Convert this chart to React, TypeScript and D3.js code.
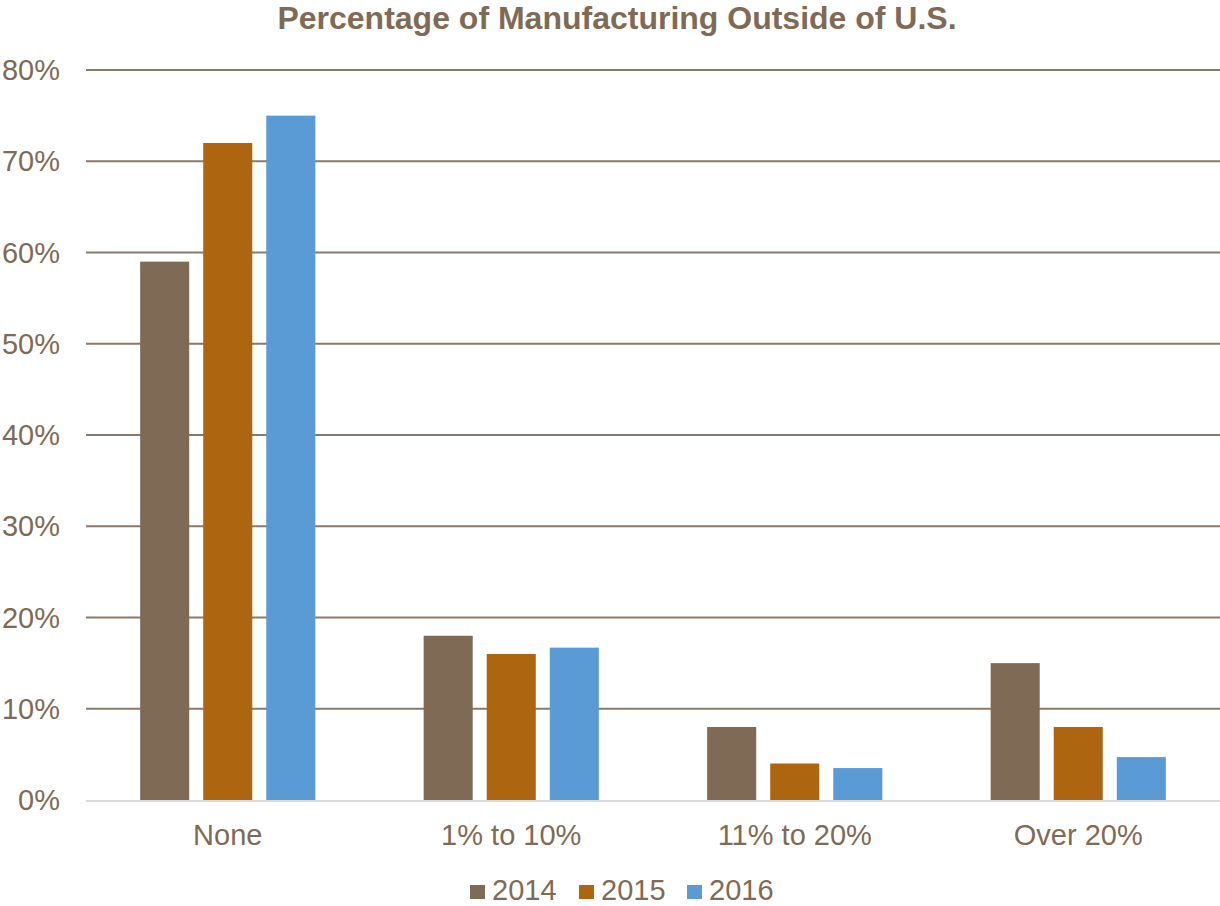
import React from "react";
import * as d3 from "d3";

const categories = ["None", "1% to 10%", "11% to 20%", "Over 20%"];
const seriesNames = ["2014", "2015", "2016"];
const values2014 = [59, 18, 8, 15];
const values2015 = [72, 16, 4, 8];
const values2016 = [75, 16.7, 3.5, 4.7];
const yTicks = [0, 10, 20, 30, 40, 50, 60, 70, 80];
const colors = ["#7F6A55", "#AD660F", "#5B9BD5"];

const W = 1220;
const H = 906;
const left = 86;
const right = 1220;
const top = 70;
const bottom = 800;
const textColor = "#7F6A55";
const font = "'Liberation Sans', Arial, sans-serif";

export default function App() {
  const series = [values2014, values2015, values2016];
  const x0 = d3.scaleBand<string>().domain(categories).range([left, right]).padding(0);
  const step = x0.bandwidth();
  const x1 = d3
    .scaleBand<string>()
    .domain(seriesNames)
    .range([step * 0.191, step * 0.809])
    .paddingInner(0.222)
    .paddingOuter(0);
  const y = d3.scaleLinear().domain([0, 80]).range([bottom, top]);

  const legendX = [470, 579, 687];

  return (
    <svg
      width={W}
      height={H}
      style={{ position: "absolute", left: 0, top: 0, background: "#fff" }}
      fontFamily={font}
    >
      <text
        x={617}
        y={29}
        textAnchor="middle"
        fontSize={32}
        fontWeight="bold"
        fill={textColor}
      >
        Percentage of Manufacturing Outside of U.S.
      </text>
      {yTicks.map((t) =>
        t === 0 ? null : (
          <line
            key={"g" + t}
            x1={left}
            x2={right}
            y1={y(t)}
            y2={y(t)}
            stroke="#8B7A67"
            strokeWidth={2}
          />
        )
      )}
      {yTicks.map((t) => (
        <text
          key={"t" + t}
          x={60}
          y={y(t)}
          dy="0.35em"
          textAnchor="end"
          fontSize={29}
          fill={textColor}
        >
          {t}%
        </text>
      ))}
      {categories.map((c, ci) =>
        series.map((vals, si) => (
          <rect
            key={c + si}
            x={(x0(c) as number) + (x1(seriesNames[si]) as number)}
            y={y(vals[ci])}
            width={x1.bandwidth()}
            height={bottom - y(vals[ci])}
            fill={colors[si]}
          />
        ))
      )}
      <line x1={left} x2={right} y1={bottom + 1} y2={bottom + 1} stroke="#D9D9D9" strokeWidth={2} />
      {categories.map((c) => (
        <text
          key={"c" + c}
          x={(x0(c) as number) + step / 2}
          y={845}
          textAnchor="middle"
          fontSize={29}
          fill={textColor}
        >
          {c}
        </text>
      ))}
      {seriesNames.map((s, i) => (
        <g key={"l" + s}>
          <rect x={legendX[i]} y={885} width={15} height={14} fill={colors[i]} />
          <text x={legendX[i] + 22} y={900} fontSize={29} fill={textColor}>
            {s}
          </text>
        </g>
      ))}
    </svg>
  );
}
